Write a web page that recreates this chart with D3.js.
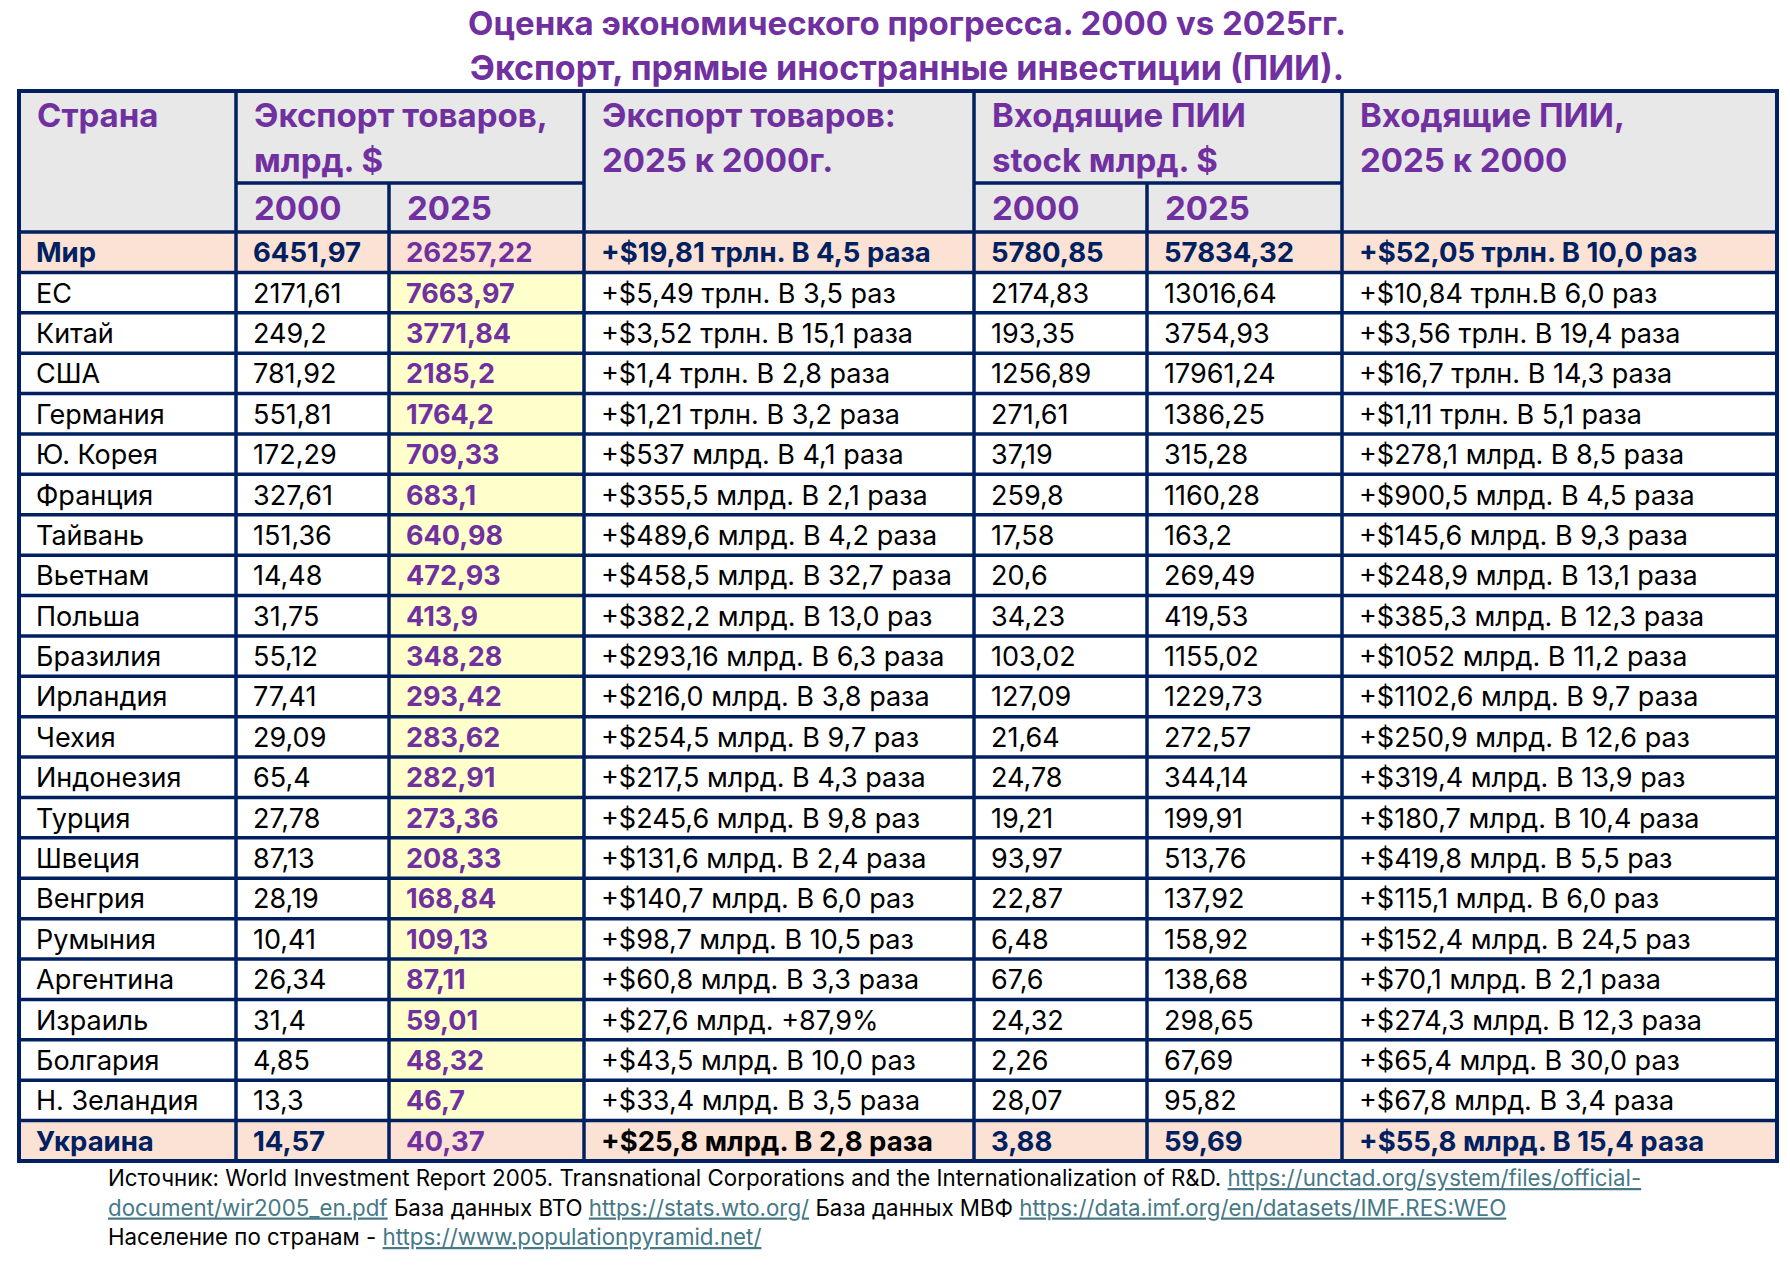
<!DOCTYPE html>
<html>
<head>
<meta charset="utf-8">
<script src="https://cdn.jsdelivr.net/npm/d3@7"></script>
<style>
  body { margin: 0; background: #fff; }
  svg { display: block; font-family: Inter, 'Noto Sans', sans-serif; }
</style>
</head>
<body>
<div id="chart"></div>
<script>
// Table data
const countries = ['Мир', 'ЕС', 'Китай', 'США', 'Германия', 'Ю. Корея', 'Франция', 'Тайвань', 'Вьетнам',
    'Польша', 'Бразилия', 'Ирландия', 'Чехия', 'Индонезия', 'Турция', 'Швеция', 'Венгрия', 'Румыния',
    'Аргентина', 'Израиль', 'Болгария', 'Н. Зеландия', 'Украина'];

const export2000 = ['6451,97', '2171,61', '249,2', '781,92', '551,81', '172,29', '327,61', '151,36', '14,48',
    '31,75', '55,12', '77,41', '29,09', '65,4', '27,78', '87,13', '28,19', '10,41', '26,34', '31,4', '4,85',
    '13,3', '14,57'];

const export2025 = ['26257,22', '7663,97', '3771,84', '2185,2', '1764,2', '709,33', '683,1', '640,98', '472,93',
    '413,9', '348,28', '293,42', '283,62', '282,91', '273,36', '208,33', '168,84', '109,13', '87,11', '59,01',
    '48,32', '46,7', '40,37'];

const exportChange = ['+$19,81 трлн. В 4,5 раза', '+$5,49 трлн. В 3,5 раз', '+$3,52 трлн. В 15,1 раза',
    '+$1,4 трлн. В 2,8 раза', '+$1,21 трлн. В 3,2 раза', '+$537 млрд. В 4,1 раза', '+$355,5 млрд. В 2,1 раза',
    '+$489,6 млрд. В 4,2 раза', '+$458,5 млрд. В 32,7 раза', '+$382,2 млрд. В 13,0 раз',
    '+$293,16 млрд. В 6,3 раза', '+$216,0 млрд. В 3,8 раза', '+$254,5 млрд. В 9,7 раз',
    '+$217,5 млрд. В 4,3 раза', '+$245,6 млрд. В 9,8 раз', '+$131,6 млрд. В 2,4 раза',
    '+$140,7 млрд. В 6,0 раз', '+$98,7 млрд. В 10,5 раз', '+$60,8 млрд. В 3,3 раза',
    '+$27,6 млрд. +87,9%', '+$43,5 млрд. В 10,0 раз', '+$33,4 млрд. В 3,5 раза', '+$25,8 млрд. В 2,8 раза'];

const fdi2000 = ['5780,85', '2174,83', '193,35', '1256,89', '271,61', '37,19', '259,8', '17,58', '20,6',
    '34,23', '103,02', '127,09', '21,64', '24,78', '19,21', '93,97', '22,87', '6,48', '67,6', '24,32', '2,26',
    '28,07', '3,88'];

const fdi2025 = ['57834,32', '13016,64', '3754,93', '17961,24', '1386,25', '315,28', '1160,28', '163,2', '269,49',
    '419,53', '1155,02', '1229,73', '272,57', '344,14', '199,91', '513,76', '137,92', '158,92', '138,68',
    '298,65', '67,69', '95,82', '59,69'];

const fdiChange = ['+$52,05 трлн. В 10,0 раз', '+$10,84 трлн.В 6,0 раз', '+$3,56 трлн. В 19,4 раза',
    '+$16,7 трлн. В 14,3 раза', '+$1,11 трлн. В 5,1 раза', '+$278,1 млрд. В 8,5 раза',
    '+$900,5 млрд. В 4,5 раза', '+$145,6 млрд. В 9,3 раза', '+$248,9 млрд. В 13,1 раза',
    '+$385,3 млрд. В 12,3 раза', '+$1052 млрд. В 11,2 раза', '+$1102,6 млрд. В 9,7 раза',
    '+$250,9 млрд. В 12,6 раз', '+$319,4 млрд. В 13,9 раз', '+$180,7 млрд. В 10,4 раза',
    '+$419,8 млрд. В 5,5 раз', '+$115,1 млрд. В 6,0 раз', '+$152,4 млрд. В 24,5 раз',
    '+$70,1 млрд. В 2,1 раза', '+$274,3 млрд. В 12,3 раза', '+$65,4 млрд. В 30,0 раз',
    '+$67,8 млрд. В 3,4 раза', '+$55,8 млрд. В 15,4 раза'];

const highlighted = ['Мир', 'Украина'];

const titleLines = ['Оценка экономического прогресса. 2000 vs 2025гг.',
    'Экспорт, прямые иностранные инвестиции (ПИИ).'];

// header: [column from, column to, lines]
const headerGroups = [
    [0, 0, ['Страна']],
    [1, 2, ['Экспорт товаров,', 'млрд. $']],
    [3, 3, ['Экспорт товаров:', '2025 к 2000г.']],
    [4, 5, ['Входящие ПИИ', 'stock млрд. $']],
    [6, 6, ['Входящие ПИИ,', '2025 к 2000']]
];
const subHeaders = [[1, '2000'], [2, '2025'], [4, '2000'], [5, '2025']];

const footerLines = [
    [['Источник: World Investment Report 2005. Transnational Corporations and the Internationalization of R&D. ', false],
     ['https://unctad.org/system/files/official-', true]],
    [['document/wir2005_en.pdf', true], [' База данных ВТО ', false], ['https://stats.wto.org/', true],
     [' База данных МВФ ', false], ['https://data.imf.org/en/datasets/IMF.RES:WEO', true]],
    [['Население по странам - ', false], ['https://www.populationpyramid.net/', true]]
];

// Colors
const purple = '#7030a0';
const navy = '#002060';
const headerBg = '#e8e8e8';
const peach = '#fbe2d5';
const yellow = '#ffffcc';
const linkColor = '#467886';

const W = 1790, H = 1266;
const svg = d3.select('#chart').append('svg')
    .attr('width', W)
    .attr('height', H);

// Layout
const colEdges = [19, 236, 389, 584, 974, 1147, 1342, 1777];
const tableTop = 91, subTop = 183, headerBottom = 232, tableBottom = 1161;
const pad = 18;

const yScale = d3.scaleBand()
    .domain(countries)
    .range([headerBottom, tableBottom]);

const columns = countries.map((c, i) => [c, export2000[i], export2025[i], exportChange[i],
    fdi2000[i], fdi2025[i], fdiChange[i]]);

// Title
svg.selectAll('text.title')
    .data(titleLines)
  .enter().append('text')
    .attr('class', 'title')
    .attr('x', 907)
    .attr('y', (d, i) => 35 + i * 45)
    .attr('text-anchor', 'middle')
    .style('font-size', (d, i) => i ? '34px' : '33px')
    .style('font-weight', 700)
    .style('fill', purple)
    .text(d => d);

// Header background
svg.append('rect')
    .attr('x', colEdges[0])
    .attr('y', tableTop)
    .attr('width', colEdges[7] - colEdges[0])
    .attr('height', headerBottom - tableTop)
    .attr('fill', headerBg);

// Cell backgrounds
const rows = svg.selectAll('g.row')
    .data(columns)
  .enter().append('g')
    .attr('class', 'row')
    .attr('transform', d => `translate(0,${yScale(d[0])})`);

rows.selectAll('rect')
    .data(d => d.map((v, j) => ({v, j, hl: highlighted.includes(d[0])})))
  .enter().append('rect')
    .attr('x', d => colEdges[d.j])
    .attr('width', d => colEdges[d.j + 1] - colEdges[d.j])
    .attr('height', yScale.bandwidth())
    .attr('fill', d => d.hl ? peach : (d.j === 2 ? yellow : '#fff'));

function cellColor(d) {
    if (d.j === 2) return purple;
    if (!d.hl) return '#000';
    if (d.row === 'Украина' && d.j === 3) return '#000';
    return navy;
}

rows.selectAll('text')
    .data(d => d.map((v, j) => ({v, j, row: d[0], hl: highlighted.includes(d[0])})))
  .enter().append('text')
    .attr('x', d => colEdges[d.j] + pad - 1)
    .attr('y', yScale.bandwidth() / 2 + 10)
    .style('font-size', d => d.hl ? '27.5px' : '27px')
    .style('font-weight', d => (d.hl || d.j === 2) ? 700 : 400)
    .style('fill', cellColor)
    .text(d => d.v);

// Header texts
headerGroups.forEach(g => {
    svg.append('g').selectAll('text')
        .data(g[2])
      .enter().append('text')
        .attr('x', colEdges[g[0]] + pad)
        .attr('y', (d, i) => 127 + i * 45)
        .style('font-size', '33px')
        .style('font-weight', 700)
        .style('fill', purple)
        .text(d => d);
});

svg.append('g').selectAll('text')
    .data(subHeaders)
  .enter().append('text')
    .attr('x', d => colEdges[d[0]] + pad)
    .attr('y', 220)
    .style('font-size', '33px')
    .style('font-weight', 700)
    .style('fill', purple)
    .text(d => d[1]);

// Grid lines
const grid = svg.append('g')
    .attr('stroke', navy)
    .attr('stroke-width', 3.5)
    .attr('fill', 'none');

// horizontal row lines
grid.selectAll('line.h')
    .data(countries.slice(1))
  .enter().append('line')
    .attr('x1', colEdges[0]).attr('x2', colEdges[7])
    .attr('y1', d => yScale(d)).attr('y2', d => yScale(d));

grid.append('line')
    .attr('x1', colEdges[0]).attr('x2', colEdges[7])
    .attr('y1', headerBottom).attr('y2', headerBottom);

// sub-header lines under spanning headers
[[1, 3], [4, 6]].forEach(s => {
    grid.append('line')
        .attr('x1', colEdges[s[0]]).attr('x2', colEdges[s[1]])
        .attr('y1', subTop).attr('y2', subTop);
});

// vertical lines
colEdges.slice(1, 7).forEach((x, i) => {
    const split = (i === 1 || i === 4);
    grid.append('line')
        .attr('x1', x).attr('x2', x)
        .attr('y1', split ? subTop : tableTop)
        .attr('y2', tableBottom);
});

// outer border
grid.append('rect')
    .attr('x', colEdges[0])
    .attr('y', tableTop)
    .attr('width', colEdges[7] - colEdges[0])
    .attr('height', tableBottom - tableTop)
    .attr('stroke-width', 4);

// Footer
const footer = svg.append('g');
footerLines.forEach((line, i) => {
    const t = footer.append('text')
        .attr('x', 108)
        .attr('y', 1186 + i * 29.5)
        .style('font-size', '22.3px')
        .style('fill', '#000');
    t.selectAll('tspan')
        .data(line)
      .enter().append('tspan')
        .style('fill', d => d[1] ? linkColor : '#000')
        .style('text-decoration', d => d[1] ? 'underline' : 'none')
        .text(d => d[0]);
});
</script>
</body>
</html>
